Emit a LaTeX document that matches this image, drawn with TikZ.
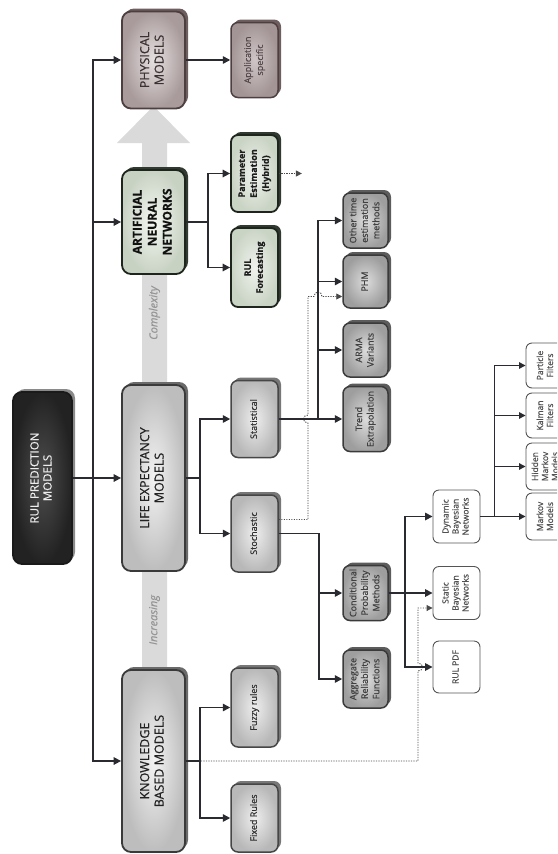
\documentclass[tikz,border=0pt]{standalone}
\usepackage{fontspec}
\setmainfont{Open Sans}[FakeBold=0.45]
\usepackage{graphicx}
\usetikzlibrary{arrows.meta,shadows}

% connector and band colours
\definecolor{lineC}{HTML}{2A2B30}
\definecolor{dotC}{HTML}{4A4A4A}
\definecolor{bandC}{HTML}{DADADA}
\definecolor{bandText}{HTML}{959595}
% box skins: border / centre / edge / shadow / text
\definecolor{rulB}{HTML}{1A1A1A}\definecolor{rulI}{HTML}{4E4E4E}\definecolor{rulO}{HTML}{222222}\definecolor{rulS}{HTML}{8A8A8A}\definecolor{rulT}{HTML}{EDEDED}
\definecolor{phyB}{HTML}{4D3F40}\definecolor{phyI}{HTML}{E6E0E0}\definecolor{phyO}{HTML}{A99B9C}\definecolor{phyS}{HTML}{6E5E5F}\definecolor{phyT}{HTML}{3A3132}
\definecolor{annB}{HTML}{1D251D}\definecolor{annI}{HTML}{F4F7F2}\definecolor{annO}{HTML}{C8D2C3}\definecolor{annS}{HTML}{303A30}\definecolor{annT}{HTML}{111111}
\definecolor{gbB}{HTML}{3A3A3A}\definecolor{gbI}{HTML}{F3F3F3}\definecolor{gbO}{HTML}{BDBDBD}\definecolor{gbS}{HTML}{6A6A6A}\definecolor{gbT}{HTML}{222222}
\definecolor{gmB}{HTML}{464646}\definecolor{gmI}{HTML}{EEEEEE}\definecolor{gmO}{HTML}{B8B8B8}\definecolor{gmS}{HTML}{777777}\definecolor{gmT}{HTML}{303030}
\definecolor{apB}{HTML}{4D3F40}\definecolor{apI}{HTML}{CFC5C6}\definecolor{apO}{HTML}{A39596}\definecolor{apS}{HTML}{6E5E5F}\definecolor{apT}{HTML}{55484A}
\definecolor{gsB}{HTML}{1D251D}\definecolor{gsI}{HTML}{F0F3EE}\definecolor{gsO}{HTML}{CAD4C5}\definecolor{gsS}{HTML}{303A30}\definecolor{gsT}{HTML}{1E1E1E}
\definecolor{gdB}{HTML}{3A3A3A}\definecolor{gdI}{HTML}{DCDCDC}\definecolor{gdO}{HTML}{9E9E9E}\definecolor{gdS}{HTML}{5C5C5C}\definecolor{gdT}{HTML}{404040}
\definecolor{wbB}{HTML}{555555}\definecolor{wbT}{HTML}{505050}

% text set bottom-to-top, one line per row
\newcommand\vlines[1]{\rotatebox{90}{\begin{tabular}{@{}c@{}}#1\end{tabular}}}

\begin{document}
\begin{tikzpicture}[x=1pt,y=-1pt,
  every node/.style={inner sep=0pt},
  skin/.style n args={5}{draw=#1, shading=radial, inner color=#2, outer color=#3,
    drop shadow={shadow xshift=3pt, shadow yshift=3pt, fill=#4, opacity=1}, text=#5},
  bigbox/.style={rounded corners=9pt, line width=1.8pt, minimum width=63pt,
    font=\fontsize{12.5}{14.5}\selectfont},
  midbox/.style={rounded corners=7pt, line width=1.5pt, minimum width=47pt,
    font=\fontsize{9}{12}\selectfont},
  smallbox/.style={rounded corners=7pt, line width=1.5pt, minimum width=45pt,
    font=\fontsize{9}{11.5}\selectfont},
  whitebox/.style={draw=wbB, fill=white, rounded corners=6pt, line width=0.9pt,
    minimum width=47pt, text=wbT, font=\fontsize{8.5}{10}\selectfont},
  conn/.style={draw=lineC, line width=1.6pt, -{Triangle[length=7.5pt,width=7.5pt]}},
  thinconn/.style={draw=lineC, line width=1.2pt, -{Triangle[length=6.5pt,width=6.5pt]}},
  dotconn/.style={draw=dotC, line width=0.9pt, dash pattern=on 1.2pt off 1.3pt,
    -{Triangle[length=6pt,width=6pt]}},
  bandlabel/.style={text=bandText, font=\fontsize{11}{13}\selectfont\itshape}
]
\useasboundingbox (0,0) rectangle (557,854);
\clip (0,0) rectangle (557,854);

% wide grey "increasing complexity" arrow behind the main column
\fill[bandC] (142,668) -- (142,143) -- (117,143) -- (153.5,106) -- (190,143)
  -- (167,143) -- (167,668) -- cycle;
\node[bandlabel] (cpx) at (154.5,313) {\rotatebox{90}{Complexity}};
\node[bandlabel] (inc) at (154.5,620) {\rotatebox{90}{Increasing}};

% root and main model families
\node[bigbox, skin={rulB}{rulI}{rulO}{rulS}{rulT}, minimum width=59pt, minimum height=172pt,
  font=\fontsize{11.5}{13}\selectfont] (rul) at (42.5,478) {\vlines{RUL PREDICTION\\MODELS}};
\node[bigbox, skin={phyB}{phyI}{phyO}{phyS}{phyT}, minimum height=97pt] (phys) at (153.5,60) {\vlines{PHYSICAL\\MODELS}};
\node[bigbox, skin={annB}{annI}{annO}{annS}{annT}, minimum height=104pt,
  font=\fontsize{12}{15}\selectfont\bfseries] (ann) at (153.5,222) {\vlines{ARTIFICIAL\\NEURAL\\NETWORKS}};
\node[bigbox, skin={gbB}{gbI}{gbO}{gbS}{gbT}, minimum height=186pt] (le) at (153.5,478) {\vlines{LIFE EXPECTANCY\\MODELS}};
\node[bigbox, skin={gbB}{gbI}{gbO}{gbS}{gbT}, minimum height=182pt] (kb) at (153.5,761) {\vlines{KNOWLEDGE\\BASED MODELS}};

% second level
\node[midbox, skin={apB}{apI}{apO}{apS}{apT}, minimum height=75pt] (app) at (254.5,60) {\vlines{Application\\specific}};
\node[midbox, skin={gsB}{gsI}{gsO}{gsS}{gsT}, line width=1.8pt, minimum height=77pt,
  font=\fontsize{9}{12}\selectfont\bfseries] (pest) at (254.5,173.5) {\vlines{Parameter\\Estimation\\(Hybrid)}};
\node[midbox, skin={gsB}{gsI}{gsO}{gsS}{gsT}, line width=1.8pt, minimum height=79pt,
  font=\fontsize{9}{12}\selectfont\bfseries] (rulf) at (254.5,267.5) {\vlines{RUL\\Forecasting}};
\node[midbox, skin={gmB}{gmI}{gmO}{gmS}{gmT}, minimum height=77pt] (stat) at (254.5,419) {\vlines{Statistical}};
\node[midbox, skin={gmB}{gmI}{gmO}{gmS}{gmT}, minimum height=77pt] (stoch) at (254.5,533.5) {\vlines{Stochastic}};
\node[midbox, skin={gmB}{gmI}{gmO}{gmS}{gmT}, minimum height=79pt] (fuzzy) at (254.5,707.5) {\vlines{Fuzzy rules}};
\node[midbox, skin={gmB}{gmI}{gmO}{gmS}{gmT}, minimum height=68pt] (fixed) at (254.5,818) {\vlines{Fixed Rules}};

% third level
\node[smallbox, skin={gdB}{gdI}{gdO}{gdS}{gdT}, minimum height=55pt] (other) at (365.5,220.5) {\vlines{Other time\\estimation\\methods}};
\node[smallbox, skin={gdB}{gdI}{gdO}{gdS}{gdT}, minimum height=53pt] (phm) at (365.5,281.5) {\vlines{PHM}};
\node[smallbox, skin={gdB}{gdI}{gdO}{gdS}{gdT}, minimum height=54pt] (arma) at (365.5,350) {\vlines{ARMA\\Variants}};
\node[smallbox, skin={gdB}{gdI}{gdO}{gdS}{gdT}, minimum height=65pt] (trend) at (365.5,419) {\vlines{Trend\\Extrapolation}};
\node[smallbox, skin={gdB}{gdI}{gdO}{gdS}{gdT}, minimum height=55pt] (cond) at (365.5,593) {\vlines{Conditional\\Probability\\Methods}};
\node[smallbox, skin={gdB}{gdI}{gdO}{gdS}{gdT}, minimum height=58pt] (aggr) at (365.5,679) {\vlines{Aggregate\\Reliability\\Functions}};

% probabilistic methods
\node[whitebox, minimum height=53pt] (dbn) at (456.5,516.5) {\vlines{Dynamic\\Bayesian\\Networks}};
\node[whitebox, minimum height=53pt] (sbn) at (456.5,593) {\vlines{Static\\Bayesian\\Networks}};
\node[whitebox, minimum height=52pt] (rulpdf) at (456.5,667) {\vlines{RUL PDF}};
\node[whitebox, minimum width=40pt, minimum height=45pt] (pf) at (546,365.5) {\vlines{Particle\\Filters}};
\node[whitebox, minimum width=40pt, minimum height=45pt] (kf) at (546,415.5) {\vlines{Kalman\\Filters}};
\node[whitebox, minimum width=40pt, minimum height=47pt] (hmm) at (546,466.5) {\vlines{Hidden\\Markov\\Models}};
\node[whitebox, minimum width=40pt, minimum height=47pt] (mm) at (546,516.5) {\vlines{Markov\\Models}};

% dotted cross links
\coordinate (stochOut) at ([yshift=14pt]stoch.east);
\coordinate (phmIn) at ([yshift=-15pt]phm.west);
\coordinate (sbnIn) at ([yshift=-15pt]sbn.west);
\draw[dotconn] (stochOut) -- (308,0 |- stochOut) -- (308,423)
  .. controls (302,423) and (302,415) .. (308,415) -- (308,0 |- phmIn)
  -- (314,0 |- phmIn) .. controls +(0,-6) and +(0,-6) .. (322,0 |- phmIn) -- (phmIn);
\draw[dotconn] (kb.east) -- (418,0 |- kb.east) -- (418,671)
  .. controls (424,671) and (424,663) .. (418,663) -- (418,0 |- sbnIn) -- (sbnIn);
\draw[dotconn] (pest.east) -- ++(23,0);

% root to families
\draw[conn] (rul.east) -- (le.west);
\draw[conn] (rul.east) -- ++(20,0) |- (phys.west);
\draw[conn] (rul.east) -- ++(20,0) |- (ann.west);
\draw[conn] (rul.east) -- ++(20,0) |- (kb.west);

% families to sub-methods
\draw[conn] (phys.east) -- (app.west);
\draw[conn] (ann.east) -- ++(22,0) |- (pest.west);
\draw[conn] (ann.east) -- ++(22,0) |- (rulf.west);
\draw[conn] (le.east) -- ++(14,0) |- (stat.west);
\draw[conn] (le.east) -- ++(14,0) |- (stoch.west);
\draw[conn] (kb.east) -- ++(14,0) |- (fuzzy.west);
\draw[conn] (kb.east) -- ++(14,0) |- (fixed.west);

% statistical branch
\draw[conn] (stat.east) -- (trend.west);
\draw[conn] (stat.east) -- ++(39,0) |- (arma.west);
\draw[conn] (stat.east) -- ++(39,0) |- (phm.west);
\draw[conn] (stat.east) -- ++(39,0) |- (other.west);

% stochastic branch
\draw[conn] (stoch.east) -- ++(40,0) |- (cond.west);
\draw[conn] (stoch.east) -- ++(40,0) |- (aggr.west);
\draw[conn] (cond.east) -- (sbn.west);
\draw[conn] (cond.east) -- ++(16,0) |- (dbn.west);
\draw[conn] (cond.east) -- ++(16,0) |- (rulpdf.west);

% dynamic Bayesian network family
\draw[thinconn] (dbn.east) -- ++(14,0) |- (mm.west);
\draw[thinconn] (dbn.east) -- ++(14,0) |- (hmm.west);
\draw[thinconn] (dbn.east) -- ++(14,0) |- (kf.west);
\draw[thinconn] (dbn.east) -- ++(14,0) |- (pf.west);
\end{tikzpicture}
\end{document}
